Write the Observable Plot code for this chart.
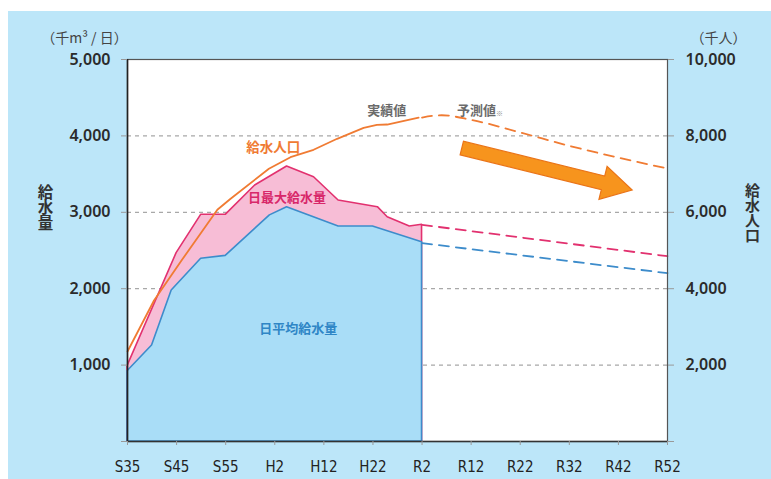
<!DOCTYPE html>
<html><head><meta charset="utf-8">
<script src="https://cdn.jsdelivr.net/npm/d3@7"></script>
<script src="https://cdn.jsdelivr.net/npm/@observablehq/plot@0.6"></script>
<style>
body{margin:0;background:#fff;}
#wrap{position:relative;width:771px;height:479px;overflow:hidden;}
#bg{position:absolute;left:8px;top:11px;right:0;bottom:0;background:#bce6f9;}
#chart{position:absolute;left:0;top:0;}
.vtitle text{writing-mode:vertical-rl;text-orientation:upright;}
</style></head><body><div id="wrap"><div id="bg"></div><div id="chart"></div></div>
<script>
// x tick labels (Japanese era years) and their western years
const tickYears  = [1960, 1970, 1980, 1990, 2000, 2010, 2020, 2030, 2040, 2050, 2060, 2070];
const tickLabels = ["S35","S45","S55","H2","H12","H22","R2","R12","R22","R32","R42","R52"];

// 日平均給水量 (千m3/日) actual
const avgYears  = [1960, 1965, 1969, 1975, 1980, 1989, 1992.5, 2003, 2010, 2020];
const avgValues = [920, 1256, 1976, 2391, 2430, 2960, 3067, 2814, 2814, 2609];
// 日最大給水量 (千m3/日) actual
const maxYears  = [1960, 1970, 1975, 1980, 1986, 1992.5, 1998, 2003, 2011, 2013, 2017.5, 2020];
const maxValues = [986, 2465, 2967, 2967, 3351, 3600, 3459, 3154, 3067, 2936, 2814, 2836];
// 給水人口 (千人) actual
const popYears  = [1960, 1965.4, 1971, 1978.3, 1981, 1988.8, 1993.2, 1997.9, 2002.7, 2008.1, 2010.8, 2012.9, 2019.3];
const popValues = [2356, 3691, 4738, 6066, 6354, 7138, 7442, 7636, 7924, 8212, 8290, 8298, 8476];
// forecasts (予測値)
const fcAvgYears  = [2020, 2070];
const fcAvgValues = [2596, 2203];
const fcMaxYears  = [2020, 2070];
const fcMaxValues = [2836, 2425];
const fcPopYears  = [2020, 2024, 2030, 2040, 2050, 2060, 2070];
const fcPopValues = [8480, 8540, 8420, 8090, 7740, 7430, 7146];

const yTicks = [0, 1000, 2000, 3000, 4000, 5000];
const gridValues = [1000, 2000, 3000, 4000];

const zip = (xs, ys) => xs.map((x, i) => ({x, y: ys[i]}));
const avg = zip(avgYears, avgValues);
const mx = zip(maxYears, maxValues);
const pop = zip(popYears, popValues);
const fcAvg = zip(fcAvgYears, fcAvgValues);
const fcMax = zip(fcMaxYears, fcMaxValues);
const fcPop = zip(fcPopYears, fcPopValues);
const popY = d => d.y / 2; // right axis is twice the left axis

const JP = "'Noto Sans CJK JP', 'Noto Sans', sans-serif";
const NUM = "'Noto Sans', sans-serif";
const fmt = d3.format(",");

const BLUE_FILL = "#a9ddf7", BLUE = "#3d8ccb";
const PINK_FILL = "#f7bdd6", PINK = "#e2316f";
const ORANGE = "#f07b33";

function arrowMark(index, scales, values, dimensions) {
  const x1 = scales.x(2028.2), y1 = scales.y(3835);
  const x2 = scales.x(2062.9), y2 = scales.y(3285);
  const dx = x2 - x1, dy = y2 - y1, L = Math.hypot(dx, dy);
  const ux = dx / L, uy = dy / L, nx = -uy, ny = ux;
  const sw = 7, hw = 17, hl = 30;
  const bx = x2 - ux * hl, by = y2 - uy * hl;
  const pts = [
    [x1 + nx * sw, y1 + ny * sw], [bx + nx * sw, by + ny * sw], [bx + nx * hw, by + ny * hw],
    [x2, y2],
    [bx - nx * hw, by - ny * hw], [bx - nx * sw, by - ny * sw], [x1 - nx * sw, y1 - ny * sw]
  ];
  const g = d3.create("svg:polygon")
    .attr("points", pts.map(p => p.join(",")).join(" "))
    .attr("fill", "#f7941d").attr("stroke", "#ea7418").attr("stroke-width", 1.2);
  return g.node();
}

const chart = Plot.plot({
  width: 771, height: 479,
  marginLeft: 127, marginRight: 104, marginTop: 59, marginBottom: 38,
  style: {background: "transparent", fontFamily: NUM},
  x: {domain: [1960, 2070]},
  y: {domain: [0, 5000]},
  marks: [
    Plot.frame({fill: "white", stroke: "none"}),
    Plot.ruleY(gridValues, {stroke: "#a8a8a8", strokeWidth: 1.2, strokeDasharray: "4,4"}),
    Plot.areaY(mx, {x: "x", y: "y", fill: PINK_FILL, stroke: PINK, strokeWidth: 1.6}),
    Plot.areaY(avg, {x: "x", y: "y", fill: BLUE_FILL, stroke: BLUE, strokeWidth: 1.6}),
    Plot.line(pop, {x: "x", y: popY, stroke: ORANGE, strokeWidth: 1.8}),
    Plot.line(fcPop, {x: "x", y: popY, stroke: ORANGE, strokeWidth: 1.8, strokeDasharray: "10,7", curve: "monotone-x"}),
    Plot.line(fcMax, {x: "x", y: "y", stroke: PINK, strokeWidth: 1.8, strokeDasharray: "10,7"}),
    Plot.line(fcAvg, {x: "x", y: "y", stroke: BLUE, strokeWidth: 1.8, strokeDasharray: "10,7"}),
    arrowMark,
    Plot.text(["給水人口"], {x: () => 1989.7, y: () => 3852, text: d => d, fill: ORANGE, fontSize: 13.5, fontWeight: "bold", fontFamily: JP}),
    Plot.text(["日最大給水量"], {x: () => 1992.5, y: () => 3190, text: d => d, fill: "#d8286a", fontSize: 13, fontWeight: "bold", fontFamily: JP}),
    Plot.text(["日平均給水量"], {x: () => 1994.8, y: () => 1475, text: d => d, fill: "#2f86c6", fontSize: 13, fontWeight: "bold", fontFamily: JP}),
    Plot.text(["実績値"], {x: () => 2012.8, y: () => 4332, text: d => d, fill: "#6b6b6b", fontSize: 13, fontWeight: "bold", fontFamily: JP}),
    Plot.text(["予測値"], {x: () => 2031.1, y: () => 4332, text: d => d, fill: "#6b6b6b", fontSize: 13, fontWeight: "bold", fontFamily: JP}),
    Plot.text(["※"], {x: () => 2035.8, y: () => 4290, text: d => d, fill: "#8a8a8a", fontSize: 7, fontFamily: JP}),
    Plot.frame({stroke: "#555", strokeWidth: 1.2}),
    Plot.ruleX([1960], {stroke: "#222", strokeWidth: 1.6}),
    Plot.ruleY([0], {stroke: "#333", strokeWidth: 1.6}),
    Plot.axisY({anchor: "left", ticks: yTicks, tickFormat: d => d === 0 ? "" : fmt(d), tickSize: 6, tickPadding: 11,
      stroke: "#999", fill: "#2b2b2b", fontSize: 16, fontWeight: 600, fontFamily: NUM, label: null}),
    Plot.axisY({anchor: "right", ticks: yTicks, tickFormat: d => d === 0 ? "" : fmt(d * 2), tickSize: 6, tickPadding: 12,
      stroke: "#999", fill: "#2b2b2b", fontSize: 16, fontWeight: 600, fontFamily: NUM, label: null}),
    Plot.axisX({ticks: tickYears, tickFormat: d => tickLabels[tickYears.indexOf(d)], tickSize: 4, tickPadding: 16,
      stroke: "#999", fill: "#222", fontSize: 15, fontFamily: "'DejaVu Sans Condensed', 'DejaVu Sans', sans-serif", label: null}),
    Plot.text(["（千m³ / 日）"], {frameAnchor: "top-left", dx: -43, dy: -21, textAnchor: "middle", lineAnchor: "middle", text: d => d, fill: "#444", fontSize: 14, fontFamily: JP}),
    Plot.text(["（千人）"], {frameAnchor: "top-right", dx: 51, dy: -21, textAnchor: "middle", lineAnchor: "middle", text: d => d, fill: "#444", fontSize: 14, fontFamily: JP}),
    Plot.text(["給水量"], {frameAnchor: "top-left", dx: -82, dy: 137, textAnchor: "middle", text: d => d, fill: "#333", fontSize: 15.5, fontWeight: "bold", fontFamily: JP, className: "vtitle"}),
    Plot.text(["給水人口"], {frameAnchor: "top-right", dx: 85, dy: 143, textAnchor: "middle", text: d => d, fill: "#333", fontSize: 15, fontWeight: "bold", fontFamily: JP, className: "vtitle"})
  ]
});
d3.select(chart).selectAll(".vtitle text").attr("dy", null);
document.getElementById("chart").append(chart);
</script></body></html>
